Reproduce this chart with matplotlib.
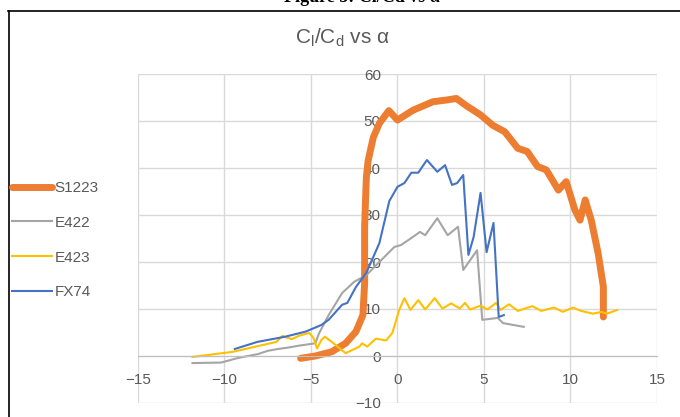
import matplotlib
matplotlib.use("Agg")
import matplotlib.pyplot as plt
from matplotlib.lines import Line2D

plt.rcParams['font.family'] = ['Liberation Sans Narrow', 'Liberation Sans', 'DejaVu Sans']

# angle of attack (deg) vs Cl/Cd
s1223_x = [-5.6, -4.75, -3.8, -3.0, -2.4, -2.0, -1.9, -1.9, -1.85, -1.8, -1.7, -1.4, -1.05,
           -0.5, 0.0, 0.9, 2.05, 2.9, 3.4, 4.0, 4.8, 5.5, 6.2, 6.95, 7.5, 8.1, 8.6, 9.3,
           9.75, 10.25, 10.55, 10.85, 11.2, 11.6, 11.9, 11.9]
s1223_y = [-0.5, 0.0, 0.9, 2.7, 5.2, 8.7, 15.5, 27.5, 33.0, 38.0, 41.5, 46.5, 49.5,
           52.2, 50.2, 52.3, 54.1, 54.5, 54.8, 53.2, 51.3, 49.1, 47.7, 44.2, 43.5, 40.3, 39.6, 35.3,
           37.1, 31.1, 28.9, 33.2, 28.9, 21.8, 14.7, 8.3]

e422_x = [-11.85, -10.2, -9.2, -8.07, -7.5, -6.9, -6.3, -5.7, -4.75, -4.55, -3.98, -3.2, -2.5,
          -1.8, -1.05, -0.18, 0.2, 0.8, 1.3, 1.6, 2.3, 2.9, 3.5, 3.8, 4.6, 4.9, 5.8, 6.1, 7.3]
e422_y = [-1.5, -1.4, -0.4, 0.4, 1.1, 1.5, 1.8, 2.2, 2.7, 4.7, 8.7, 13.4, 15.8,
          17.2, 20.0, 23.2, 23.6, 25.1, 26.4, 25.7, 29.3, 25.7, 27.5, 18.3, 22.5, 7.7, 8.1, 7.0, 6.2]

e423_x = [-11.85, -9.5, -8.2, -7.0, -6.65, -6.4, -6.1, -5.7, -5.1, -4.85, -4.65, -4.4, -4.2,
          -3.8, -3.0, -2.2, -2.05, -1.75, -1.25, -0.66, -0.3, 0.1, 0.4, 0.75, 1.2, 1.6, 2.15,
          2.6, 3.1, 3.6, 3.9, 4.2, 4.8, 5.2, 5.7, 5.95, 6.45, 6.95, 7.8, 8.3, 9.05, 9.55,
          10.15, 10.6, 11.3, 11.8, 12.1, 12.7]
e423_y = [-0.2, 0.9, 2.0, 3.0, 4.3, 3.9, 3.6, 4.3, 4.9, 3.8, 1.6, 3.4, 4.1,
          3.0, 0.6, 2.0, 2.7, 2.0, 3.7, 3.3, 4.9, 9.8, 12.3, 9.8, 11.9, 9.9, 12.3,
          10.1, 11.2, 10.1, 11.3, 9.9, 10.7, 9.9, 11.3, 9.8, 11.0, 9.6, 10.6, 9.6, 10.3, 9.4,
          10.3, 9.6, 9.0, 9.4, 9.0, 9.8]

fx74_x = [-9.4, -8.1, -6.5, -5.3, -4.4, -3.98, -3.2, -2.9, -2.4, -1.8, -1.05, -0.47, 0.0,
          0.4, 0.8, 1.2, 1.7, 2.3, 2.75, 3.15, 3.45, 3.8, 4.1, 4.4, 4.8, 5.15, 5.55, 5.85, 6.15]
fx74_y = [1.5, 3.0, 4.1, 5.2, 6.6, 7.7, 10.9, 11.3, 14.7, 17.7, 24.0, 33.0, 36.0,
          36.8, 39.0, 39.0, 41.7, 39.2, 40.6, 36.4, 36.8, 38.5, 21.5, 25.3, 34.7, 22.1, 28.3, 8.3, 8.7]

x_ticks = [-15, -10, -5, 0, 5, 10, 15]
y_ticks = [-10, 0, 10, 20, 30, 40, 50, 60]

fig = plt.figure(figsize=(6.8, 4.17), dpi=100)
ax = fig.add_axes([138/680, 1 - 403/417, (657 - 138)/680, (403 - 74)/417])

ax.plot(s1223_x, s1223_y, color='#ED7D31', lw=5, solid_capstyle='round', label='S1223')
ax.plot(e422_x, e422_y, color='#A5A5A5', lw=1.5, label='E422')
ax.plot(e423_x, e423_y, color='#FFC000', lw=1.5, label='E423')
ax.plot(fx74_x, fx74_y, color='#4472C4', lw=1.5, label='FX74')

ax.set_xlim(-15, 15)
ax.set_ylim(-10, 60)
ax.set_xticks(x_ticks)
ax.set_yticks(y_ticks)
ax.grid(True, color='#d9d9d9', lw=1)
ax.set_axisbelow(True)

# axes cross at the origin like in Excel
ax.spines['left'].set_position(('data', 0))
ax.spines['bottom'].set_position(('data', 0))
ax.spines['left'].set_color('none')
ax.spines['bottom'].set_color('#bfbfbf')
ax.spines['top'].set_visible(False)
ax.spines['right'].set_visible(False)
ax.tick_params(length=0, labelsize=11, colors='#595959')
ax.tick_params(axis='x', pad=12)
ax.tick_params(axis='y', pad=12)

fig.legend(loc='upper left', bbox_to_anchor=(12/680, 1 - 181/417), frameon=False,
           fontsize=11, handlelength=2.6, handletextpad=0.2, labelspacing=1.36,
           borderpad=0, borderaxespad=0, labelcolor='#595959')

fig.text(342/680, 1 - 38/417, r'C$_\mathregular{l}$/C$_\mathregular{d}$ vs α',
         ha='center', va='center', fontsize=15, color='#595959')

# chopped caption above the chart frame, only its lower edge shows
fig.text(362/680, 1 + 3/417, 'Figure 5: Cl/Cd vs α', ha='center', va='center',
         fontsize=13, fontweight='bold', family='Liberation Serif', color='black')

# chart frame
fig.add_artist(Line2D([8/680, 1], [1 - 11/417, 1 - 11/417], color='black', lw=1.2))
fig.add_artist(Line2D([9/680, 9/680], [0, 1 - 11/417], color='black', lw=1.2))

fig.savefig('out.png', dpi=100)
